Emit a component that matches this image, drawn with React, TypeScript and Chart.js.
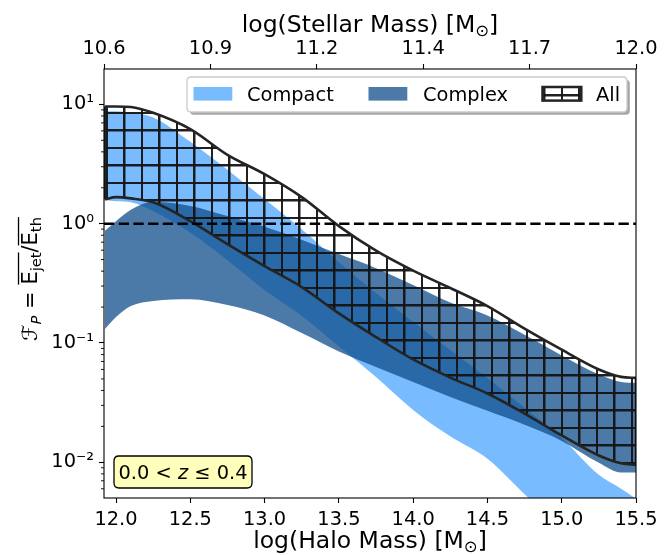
import React, { useEffect, useRef } from 'react';
import { Chart, registerables } from 'chart.js';

Chart.register(...registerables);

// ---------- data ----------
const haloMass = [11.925, 12.0, 12.1, 12.25, 12.5, 12.75, 13.0, 13.25, 13.5, 13.75, 14.0, 14.25, 14.5, 14.75, 15.0, 15.25, 15.4, 15.5];
const compactLow = [1.57, 1.54, 1.51, 1.27, 0.84, 0.495, 0.278, 0.168, 0.0935, 0.0519, 0.0275, 0.0165, 0.0107, 0.0054, 0.0028, 0.00135, 0.0009, 0.00068];
const compactHigh = [8.74, 8.74, 8.49, 7.78, 4.86, 2.83, 1.6, 0.9, 0.476, 0.262, 0.15, 0.0874, 0.0509, 0.0286, 0.016, 0.00785, 0.006, 0.00495];
const complexLow = [0.131, 0.165, 0.204, 0.225, 0.233, 0.208, 0.17, 0.121, 0.0849, 0.063, 0.0472, 0.0353, 0.027, 0.0206, 0.0151, 0.0099, 0.0082, 0.0082];
const complexHigh = [0.87, 1.05, 1.31, 1.52, 1.41, 1.16, 0.944, 0.734, 0.556, 0.424, 0.306, 0.218, 0.17, 0.117, 0.0786, 0.0545, 0.0472, 0.0463];
const allLow = [1.6, 1.67, 1.63, 1.51, 1.05, 0.673, 0.44, 0.294, 0.177, 0.112, 0.0728, 0.0513, 0.0377, 0.0256, 0.0168, 0.0114, 0.0098, 0.0095];
const allHigh = [9.6, 9.6, 9.5, 8.5, 6.2, 3.78, 2.6, 1.67, 0.955, 0.594, 0.404, 0.289, 0.204, 0.132, 0.088, 0.06, 0.052, 0.051];

const haloTicks = [12.0, 12.5, 13.0, 13.5, 14.0, 14.5, 15.0, 15.5];
const stellarTickLabels = ['10.6', '10.9', '11.2', '11.4', '11.7', '12.0'];
const yMajorTicks = [0.01, 0.1, 1, 10];
const unityLevel = 1;
const legendLabels = ['Compact', 'Complex', 'All'];
const redshiftLabel = ['0.0 < ', 'z', ' \u2264 0.4'];

const X_MIN = 11.919;
const X_MAX = 15.5;
const Y_MIN = 0.00502;
const Y_MAX = 19.8;

const COMPACT = 'rgba(30,144,255,0.6)';
const COMPLEX = 'rgba(16,78,139,0.75)';
const EDGE = '#242424';
const FONT = '"DejaVu Sans", "Noto Sans", sans-serif';
const TICK_SIZE = 19.4;
const TITLE_SIZE = 23.5;
const YLAB_SIZE = 21;

const SUP: Record<string, string> = { '-': '\u207B', '0': '\u2070', '1': '\u00B9', '2': '\u00B2', '3': '\u00B3' };
const isPow10 = (v: number) => Math.abs(Math.log10(v) - Math.round(Math.log10(v))) < 1e-9;
const powLabel = (v: number) => '10' + String(Math.round(Math.log10(v))).split('').map((c) => SUP[c] || c).join('');

type Seg = { t: string; size: number; dy?: number; italic?: boolean; over?: number };

function segFont(s: Seg) {
  return `${s.italic ? 'italic ' : ''}${s.size}px ${FONT}`;
}

function drawRich(ctx: CanvasRenderingContext2D, segs: Seg[], x: number, y: number, align: 'center' | 'left') {
  ctx.textAlign = 'left';
  ctx.textBaseline = 'alphabetic';
  const ws = segs.map((s) => {
    ctx.font = segFont(s);
    return ctx.measureText(s.t).width;
  });
  const total = ws.reduce((a, b) => a + b, 0);
  let cx = align === 'center' ? x - total / 2 : x;
  const overs: Record<number, { x0: number; x1: number; size: number }> = {};
  segs.forEach((s, i) => {
    ctx.font = segFont(s);
    ctx.fillText(s.t, cx, y + (s.dy || 0));
    if (s.over) {
      const o = overs[s.over] || (overs[s.over] = { x0: cx, x1: cx, size: s.size });
      o.x1 = cx + ws[i];
    }
    cx += ws[i];
  });
  Object.values(overs).forEach((o) => {
    ctx.beginPath();
    ctx.lineWidth = 1.3;
    ctx.moveTo(o.x0, y - o.size * 0.88);
    ctx.lineTo(o.x1, y - o.size * 0.88);
    ctx.stroke();
  });
}

function makeHatch(ctx: CanvasRenderingContext2D) {
  const c = document.createElement('canvas');
  c.width = 35;
  c.height = 35;
  const g = c.getContext('2d')!;
  g.fillStyle = 'rgba(20,20,20,0.95)';
  g.fillRect(1, 0, 2, 35);
  g.fillRect(18, 0, 2.5, 35);
  g.fillRect(0, 7, 35, 2);
  g.fillRect(0, 24, 35, 2.5);
  return ctx.createPattern(c, 'repeat')!;
}

function roundRect(ctx: CanvasRenderingContext2D, x: number, y: number, w: number, h: number, r: number) {
  ctx.beginPath();
  ctx.moveTo(x + r, y);
  ctx.lineTo(x + w - r, y);
  ctx.quadraticCurveTo(x + w, y, x + w, y + r);
  ctx.lineTo(x + w, y + h - r);
  ctx.quadraticCurveTo(x + w, y + h, x + w - r, y + h);
  ctx.lineTo(x + r, y + h);
  ctx.quadraticCurveTo(x, y + h, x, y + h - r);
  ctx.lineTo(x, y + r);
  ctx.quadraticCurveTo(x, y, x + r, y);
  ctx.closePath();
}

export default function App() {
  const ref = useRef<HTMLCanvasElement>(null);

  useEffect(() => {
    const canvas = ref.current!;
    const c2d = canvas.getContext('2d')!;
    const hatch = makeHatch(c2d);
    const pts = (ys: number[]) => haloMass.map((x, i) => ({ x, y: ys[i] }));
    const band = { pointRadius: 0, borderWidth: 0, borderColor: 'rgba(0,0,0,0)', cubicInterpolationMode: 'monotone' as const };
    const n = haloMass.length - 1;

    const minorY: number[] = [];
    for (let e = -3; e <= 1; e++) {
      for (let m = 2; m <= 9; m++) {
        const v = m * Math.pow(10, e);
        if (v >= Y_MIN && v <= Y_MAX) minorY.push(v);
      }
    }

    const decorPlugin = {
      id: 'decor',
      afterDraw(chart: any) {
        const ctx: CanvasRenderingContext2D = chart.ctx;
        const a = chart.chartArea;
        const ys = chart.scales.y;
        ctx.save();
        // frame
        ctx.strokeStyle = '#000';
        ctx.lineWidth = 1.1;
        ctx.strokeRect(a.left, a.top, a.right - a.left, a.bottom - a.top);
        // minor y ticks
        ctx.lineWidth = 0.9;
        minorY.forEach((v) => {
          const y = ys.getPixelForValue(v);
          ctx.beginPath();
          ctx.moveTo(a.left - 3, y);
          ctx.lineTo(a.left, y);
          ctx.stroke();
        });
        ctx.fillStyle = '#000';
        ctx.strokeStyle = '#000';
        const cx = (a.left + a.right) / 2;
        // axis titles
        drawRich(ctx, [
          { t: 'log(Halo Mass) [M', size: TITLE_SIZE },
          { t: '\u2299', size: 16.5, dy: 4 },
          { t: ']', size: TITLE_SIZE },
        ], cx, 548, 'center');
        drawRich(ctx, [
          { t: 'log(Stellar Mass) [M', size: TITLE_SIZE },
          { t: '\u2299', size: 16.5, dy: 4 },
          { t: ']', size: TITLE_SIZE },
        ], cx, 31.5, 'center');
        ctx.save();
        ctx.translate(37, 279);
        ctx.rotate(-Math.PI / 2);
        drawRich(ctx, [
          { t: '\u2131', size: YLAB_SIZE, italic: true },
          { t: 'P', size: 14.7, dy: 4, italic: true },
          { t: ' = ', size: YLAB_SIZE },
          { t: 'E', size: YLAB_SIZE, over: 1 },
          { t: 'jet', size: 14.7, dy: 4, over: 1 },
          { t: '/', size: YLAB_SIZE },
          { t: 'E', size: YLAB_SIZE, over: 2 },
          { t: 'th', size: 14.7, dy: 4, over: 2 },
        ], 0, 0, 'center');
        ctx.restore();

        // legend
        const lx = 187, ly = 77, lw = 440, lh = 35;
        ctx.fillStyle = 'rgba(77,77,77,0.5)';
        roundRect(ctx, lx + 2.8, ly + 2.8, lw, lh, 4);
        ctx.fill();
        ctx.fillStyle = '#fff';
        roundRect(ctx, lx, ly, lw, lh, 4);
        ctx.fill();
        ctx.strokeStyle = '#cccccc';
        ctx.lineWidth = 1.3;
        ctx.stroke();
        const patchX = [193.5, 368.5, 542.5];
        const textX = [247, 423, 596];
        const pw = 38.8, ph = 13.6, py = 87;
        ctx.fillStyle = COMPACT;
        ctx.fillRect(patchX[0], py, pw, ph);
        ctx.fillStyle = COMPLEX;
        ctx.fillRect(patchX[1], py, pw, ph);
        ctx.fillStyle = hatch;
        ctx.fillRect(patchX[2], py, pw, ph);
        ctx.strokeStyle = EDGE;
        ctx.lineWidth = 2.5;
        ctx.strokeRect(patchX[2], py, pw, ph);
        ctx.fillStyle = '#000';
        ctx.font = `${TICK_SIZE}px ${FONT}`;
        ctx.textAlign = 'left';
        ctx.textBaseline = 'alphabetic';
        legendLabels.forEach((l, i) => ctx.fillText(l, textX[i], 100.5));

        // redshift box
        ctx.fillStyle = 'rgb(255,255,187)';
        roundRect(ctx, 114, 456, 138, 32, 5);
        ctx.fill();
        ctx.strokeStyle = '#000';
        ctx.lineWidth = 1.3;
        ctx.stroke();
        ctx.fillStyle = '#000';
        drawRich(ctx, [
          { t: redshiftLabel[0], size: TICK_SIZE },
          { t: redshiftLabel[1], size: TICK_SIZE, italic: true },
          { t: redshiftLabel[2], size: TICK_SIZE },
        ], 183, 479, 'center');
        ctx.restore();
      },
    };

    const tickFont = { family: FONT, size: TICK_SIZE };

    const chart = new Chart(canvas, {
      type: 'line',
      data: {
        datasets: [
          { ...band, label: 'compactLow', data: pts(compactLow), fill: false, order: 4 },
          { ...band, label: 'Compact', data: pts(compactHigh), fill: '-1', backgroundColor: COMPACT, order: 4 },
          { ...band, label: 'complexLow', data: pts(complexLow), fill: false, order: 3 },
          { ...band, label: 'Complex', data: pts(complexHigh), fill: '-1', backgroundColor: COMPLEX, order: 3 },
          { ...band, label: 'allLow', data: pts(allLow), fill: false, borderWidth: 2.6, borderColor: EDGE, order: 2 },
          { ...band, label: 'All', data: pts(allHigh), fill: '-1', backgroundColor: hatch, borderWidth: 2.6, borderColor: EDGE, order: 2 },
          {
            label: 'allEdges',
            data: [
              { x: haloMass[0], y: allLow[0] },
              { x: haloMass[0], y: allHigh[0] },
              { x: (haloMass[0] + haloMass[1]) / 2, y: null },
              { x: haloMass[n], y: allLow[n] },
              { x: haloMass[n], y: allHigh[n] },
            ],
            pointRadius: 0, borderWidth: 2.6, borderColor: EDGE, fill: false, spanGaps: false, tension: 0, order: 1,
          },
          {
            label: 'unity',
            data: [{ x: X_MIN, y: unityLevel }, { x: X_MAX, y: unityLevel }],
            pointRadius: 0, borderWidth: 2.5, borderColor: '#000', borderDash: [10.3, 4.4], fill: false, order: 0,
          },
        ] as any,
      },
      options: {
        animation: false,
        responsive: false,
        maintainAspectRatio: false,
        layout: { padding: { left: 0, right: 35, top: 0, bottom: 0 } },
        plugins: { legend: { display: false }, tooltip: { enabled: false } },
        scales: {
          x: {
            type: 'linear', position: 'bottom', min: X_MIN, max: X_MAX,
            afterBuildTicks: (s: any) => { s.ticks = haloTicks.map((v) => ({ value: v })); },
            afterFit: (s: any) => { s.height = 57; },
            ticks: { font: tickFont, color: '#000', padding: 5, maxRotation: 0, autoSkip: false, callback: (v: any) => Number(v).toFixed(1) },
            grid: { drawOnChartArea: false, drawTicks: true, tickLength: 5, tickColor: '#000', tickWidth: 1.1 },
            border: { display: false },
          },
          x2: {
            type: 'linear', position: 'top', min: X_MIN, max: X_MAX,
            afterBuildTicks: (s: any) => {
              s.ticks = stellarTickLabels.map((_, i) => ({ value: X_MIN + (i * (X_MAX - X_MIN)) / (stellarTickLabels.length - 1) }));
            },
            afterFit: (s: any) => { s.height = 69; },
            ticks: { font: tickFont, color: '#000', padding: 3, maxRotation: 0, autoSkip: false, callback: (_v: any, i: number) => stellarTickLabels[i] },
            grid: { drawOnChartArea: false, drawTicks: true, tickLength: 5, tickColor: '#000', tickWidth: 1.1 },
            border: { display: false },
          },
          y: {
            type: 'logarithmic', min: Y_MIN, max: Y_MAX,
            afterBuildTicks: (s: any) => { s.ticks = yMajorTicks.map((v) => ({ value: v, major: true })); },
            afterFit: (s: any) => { s.width = 104; },
            ticks: { font: tickFont, color: '#000', padding: 5, autoSkip: false, callback: (v: any) => (isPow10(Number(v)) ? powLabel(Number(v)) : '') },
            grid: { drawOnChartArea: false, drawTicks: true, tickLength: 5, tickColor: '#000', tickWidth: 1.1 },
            border: { display: false },
          },
        },
      } as any,
      plugins: [decorPlugin],
    });
    return () => chart.destroy();
  }, []);

  return (
    <div style={{ position: 'fixed', left: 0, top: 0, width: 671, height: 555, background: '#fff' }}>
      <canvas ref={ref} width={671} height={555} style={{ display: 'block', width: 671, height: 555 }} />
    </div>
  );
}
